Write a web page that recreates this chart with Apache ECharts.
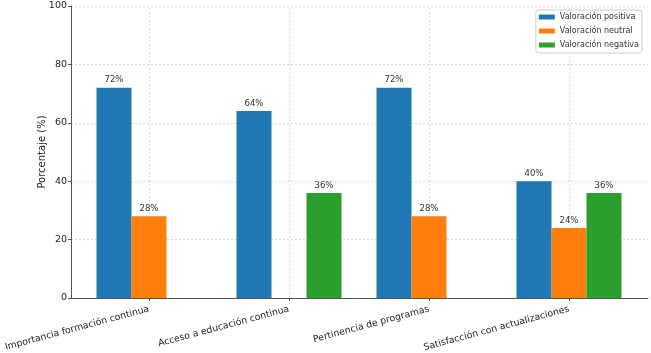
<!DOCTYPE html>
<html>
<head>
<meta charset="utf-8">
<script src="https://cdn.jsdelivr.net/npm/echarts@6/dist/echarts.min.js"></script>
<style>
  html, body { margin: 0; padding: 0; background: #fff; }
  #main { width: 651px; height: 353px; }
</style>
</head>
<body>
<div id="main"></div>
<script>
var categories = ['Importancia formación continua', 'Acceso a educación continua', 'Pertinencia de programas', 'Satisfacción con actualizaciones'];
var seriesNames = ['Valoración positiva', 'Valoración neutral', 'Valoración negativa'];
var positiva = [72, 64, 72, 40];
var neutral = [28, null, 28, 24];
var negativa = [null, 36, null, 36];
var yTicks = [0, 20, 40, 60, 80, 100];

var colors = ['#1f77b4', '#ff7f0e', '#2ca02c'];
var font = 'DejaVu Sans';
var gridColor = '#d9d9d9';
var axisColor = '#555';

function barSeries(name, values, color)
{
    return {
        name: name,
        type: 'bar',
        xAxisIndex: 0,
        yAxisIndex: 0,
        barWidth: 35,
        barGap: '0%',
        z: 3,
        itemStyle: {color: color},
        label: {
            show: true,
            position: 'top',
            distance: 3,
            fontFamily: font,
            fontSize: 8.5,
            color: '#333',
            formatter: function(p) { return p.value == null ? '' : p.value + '%'; }
        },
        data: values
    };
}

var chart = echarts.init(document.getElementById('main'));
var option = {
    animation: false,
    textStyle: {fontFamily: font},
    grid: [
        {left: 79, width: 560, top: 6, height: 292, outerBoundsMode: 'none', containLabel: false},
        {left: 71, width: 577, top: 6, height: 292, outerBoundsMode: 'none', containLabel: false}
    ],
    legend: {
        data: seriesNames,
        orient: 'vertical',
        right: 9,
        top: 10,
        icon: 'rect',
        itemWidth: 16,
        itemHeight: 5,
        itemGap: 4,
        padding: [2, 3, 3, 3],
        borderColor: '#ccc',
        borderWidth: 1,
        borderRadius: 3,
        backgroundColor: '#fff',
        textStyle: {fontFamily: font, fontSize: 8, lineHeight: 10, color: '#333'}
    },
    xAxis: [
        {
            gridIndex: 0,
            type: 'category',
            data: categories,
            axisLine: {show: false},
            axisTick: {show: true, alignWithLabel: true, length: 3, lineStyle: {color: axisColor}},
            splitLine: {show: false},
            axisLabel: {rotate: 15, fontSize: 9.3, color: '#222', margin: 11, interval: 0}
        },
        {
            gridIndex: 1,
            type: 'value',
            min: 0,
            max: 1,
            axisLine: {show: true, lineStyle: {color: axisColor, width: 1}},
            axisTick: {show: false},
            axisLabel: {show: false},
            splitLine: {show: false}
        }
    ],
    yAxis: [
        {
            gridIndex: 0,
            type: 'value',
            min: 0,
            max: 100,
            show: false
        },
        {
            gridIndex: 1,
            type: 'value',
            min: 0,
            max: 100,
            interval: 20,
            name: 'Porcentaje (%)',
            nameLocation: 'middle',
            nameGap: 24,
            nameMoveOverlap: false,
            nameTextStyle: {fontSize: 10, color: '#222'},
            axisLine: {show: true, lineStyle: {color: axisColor, width: 1}},
            axisTick: {show: true, length: 3, lineStyle: {color: axisColor}},
            axisLabel: {fontSize: 9.5, color: '#222', margin: 4},
            splitLine: {show: true, lineStyle: {color: gridColor, type: [2, 2], width: 1}}
        }
    ],
    series: [
        {
            name: 'grid',
            type: 'line',
            xAxisIndex: 0,
            yAxisIndex: 0,
            z: 1,
            data: [],
            markLine: {
                z: 1,
                silent: true,
                symbol: 'none',
                label: {show: false},
                lineStyle: {color: gridColor, type: [2, 2], width: 1},
                data: categories.map(function(c) { return {xAxis: c}; })
            }
        },
        barSeries(seriesNames[0], positiva, colors[0]),
        barSeries(seriesNames[1], neutral, colors[1]),
        barSeries(seriesNames[2], negativa, colors[2])
    ]
};
chart.setOption(option);
</script>
</body>
</html>
